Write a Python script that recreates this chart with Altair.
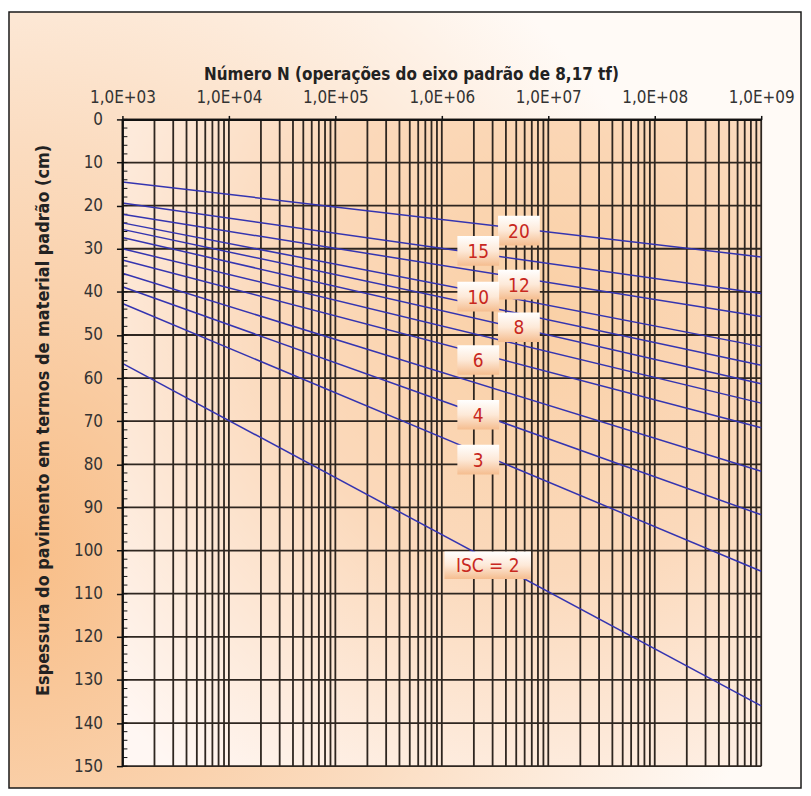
import altair as alt
import pandas as pd

# ---- data ----
isc = [20, 15, 12, 10, 9, 8, 7, 6, 5, 4, 3, 2]
h_at_1e3 = [14.5, 19.4, 22.0, 24.0, 25.5, 27.4, 30.0, 32.6, 35.7, 38.8, 42.7, 56.6]
h_at_1e9 = [31.9, 40.4, 45.7, 52.7, 57.0, 61.3, 65.8, 71.5, 81.6, 91.7, 104.8, 136.0]
n_start, n_end = 1e3, 1e9

label_text = ["20", "15", "12", "10", "8", "6", "4", "3", "ISC = 2"]
label_n = [5.3e6, 2.2e6, 5.3e6, 2.2e6, 5.3e6, 2.2e6, 2.2e6, 2.2e6, 2.7e6]
label_h = [25.8, 30.5, 38.3, 41.1, 48.2, 55.8, 68.5, 78.9, 103.4]

decades = [1e3, 1e4, 1e5, 1e6, 1e7, 1e8, 1e9]
x_tick_labels = ["1,0E+03", "1,0E+04", "1,0E+05", "1,0E+06", "1,0E+07", "1,0E+08", "1,0E+09"]
minor_mult = [1, 2, 3, 4, 5, 6, 7, 8, 9]
y_major = list(range(0, 151, 10))
y_minor = list(range(0, 151, 2))

x_title = "Número N (operações do eixo padrão de 8,17 tf)"
y_title = "Espessura do pavimento em termos de material padrão (cm)"

# ---- tables ----
lines_df = pd.DataFrame(
    [{"isc": c, "n": n_start, "h": a} for c, a in zip(isc, h_at_1e3)]
    + [{"isc": c, "n": n_end, "h": b} for c, b in zip(isc, h_at_1e9)]
)
labels_df = pd.DataFrame({"text": label_text, "n": label_n, "h": label_h})
vgrid_df = pd.DataFrame({"n": [d * m for d in decades[:-1] for m in minor_mult] + [decades[-1]]})
hgrid_df = pd.DataFrame({"h": y_major})
yminor_df = pd.DataFrame({"h": y_minor})

W, H = 642, 650
FONT = "'DejaVu Sans Condensed', 'Liberation Sans', Arial, sans-serif"
GRID = "#2e2620"

labels_js = "[" + ",".join("'%s'" % s for s in x_tick_labels) + "]"

xscale = alt.Scale(type="log", domain=[n_start, n_end], nice=False)
yscale = alt.Scale(domain=[0, 150], reverse=True, nice=False, zero=False)

xaxis = alt.Axis(
    orient="top", values=decades, grid=False,
    labelExpr=labels_js + "[round(log(datum.value)/LN10) - 3]",
    labelFont=FONT, labelFontSize=17, labelColor="#333333", labelPadding=9,
    labelOverlap=False, labelFlush=False,
    ticks=True, tickSize=4, tickColor="#111111", tickWidth=1.5,
    domain=True, domainColor="#111111", domainWidth=2,
    title=x_title, titleFont=FONT, titleFontSize=17, titleFontWeight="bold",
    titleColor="#222222", titleX=290, titleY=-45, titleBaseline="middle", titleAlign="center",
    zindex=1,
)
yaxis = alt.Axis(
    orient="left", values=y_major, grid=False,
    labelFont=FONT, labelFontSize=17, labelColor="#333333", labelPadding=14,
    labelOverlap=False, labelFlush=False,
    ticks=True, tickSize=6, tickColor="#111111", tickWidth=1.5,
    domain=True, domainColor="#111111", domainWidth=2,
    title=y_title, titleFont=FONT, titleFontSize=18, titleFontWeight="bold",
    titleColor="#222222", titleX=-79, titleY=302, titleBaseline="middle", titleAlign="center",
    titleAngle=270, zindex=1,
)

X = alt.X("n:Q", scale=xscale, axis=xaxis)
Y = alt.Y("h:Q", scale=yscale, axis=yaxis)

outer_bg = alt.Chart(pd.DataFrame({"k": [0]})).mark_rect(
    fill={"gradient": "radial", "x1": 0.0, "y1": 0.7, "r1": 0.0, "x2": 0.0, "y2": 0.7, "r2": 0.95,
          "stops": [{"offset": 0, "color": "#f8bd86"}, {"offset": 0.55, "color": "#fbdcc0"},
                    {"offset": 1, "color": "#fffaf6"}]},
    stroke="#1a1a1a", strokeWidth=1.5,
).encode(x=alt.value(-114), x2=alt.value(682), y=alt.value(-108), y2=alt.value(672))

plot_bg = alt.Chart(pd.DataFrame({"k": [0]})).mark_rect(
    fill={"gradient": "radial", "x1": 0.65, "y1": 0.3, "r1": 0.0, "x2": 0.65, "y2": 0.3, "r2": 0.9,
          "stops": [{"offset": 0, "color": "#fad0a6"}, {"offset": 0.45, "color": "#fbd9bb"},
                    {"offset": 1, "color": "#fff7f3"}]},
).encode(x=alt.value(0), x2=alt.value(W), y=alt.value(0), y2=alt.value(H))

vgrid = alt.Chart(vgrid_df).mark_rule(color=GRID, strokeWidth=1.8).encode(
    x=X, y=alt.value(0), y2=alt.value(H))
hgrid = alt.Chart(hgrid_df).mark_rule(color=GRID, strokeWidth=1.8).encode(
    y=Y, x=alt.value(0), x2=alt.value(W))
yminor = alt.Chart(yminor_df).mark_rule(color="#111111", strokeWidth=1).encode(
    y=Y, x=alt.value(0), x2=alt.value(5))

lines = alt.Chart(lines_df).mark_line(color="#3434b0", strokeWidth=1.5).encode(
    x=X, y=Y, detail="isc:N")

box_fill = {"gradient": "linear", "x1": 0, "y1": 0, "x2": 0, "y2": 1,
            "stops": [{"offset": 0, "color": "#ffffff"}, {"offset": 0.5, "color": "#fde9d8"},
                      {"offset": 1, "color": "#f5bd8f"}]}
boxes_small = alt.Chart(labels_df).transform_filter("datum.text != 'ISC = 2'").mark_point(
    shape="M-1,-0.71L1,-0.71L1,0.71L-1,0.71Z", size=1764, filled=True, fill=box_fill, opacity=1,
    strokeWidth=0,
).encode(x=X, y=Y)
boxes_big = alt.Chart(labels_df).transform_filter("datum.text == 'ISC = 2'").mark_point(
    shape="M-1,-0.32L1,-0.32L1,0.32L-1,0.32Z", size=7569, filled=True, fill=box_fill, opacity=1,
    strokeWidth=0,
).encode(x=X, y=Y)
texts = alt.Chart(labels_df).mark_text(
    font=FONT, fontSize=19, color="#c8281e", align="center", baseline="middle", dy=1,
).encode(x=X, y=Y, text="text:N")

chart = alt.layer(
    outer_bg, plot_bg, vgrid, hgrid, yminor, lines, boxes_small, boxes_big, texts
).properties(
    width=W, height=H,
    autosize=alt.AutoSizeParams(type="none"),
    padding={"left": 115, "top": 110, "right": 42, "bottom": 24},
).configure_view(stroke=None).configure(background="white")

chart.save("out.html", embed_options={"renderer": "svg", "actions": False})
